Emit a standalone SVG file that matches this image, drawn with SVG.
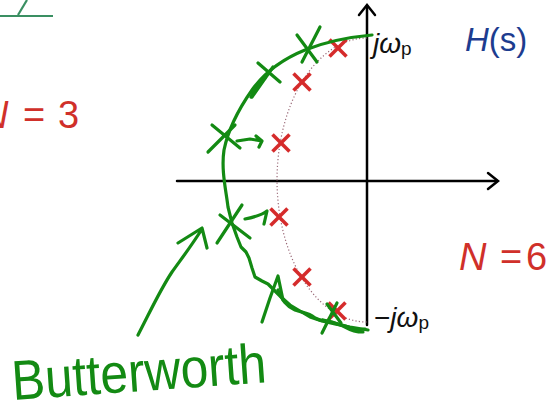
<svg xmlns="http://www.w3.org/2000/svg" width="560" height="416" viewBox="0 0 560 416">
<style>
.ax{stroke:#000;stroke-width:2.5;fill:none;stroke-linecap:round}
.px{stroke:#d52b2b;stroke-width:3.6;stroke-linecap:butt}
.ink{stroke:#138a13;stroke-width:3.2;fill:none;stroke-linecap:round;stroke-linejoin:round}
.lbl{font-family:"Liberation Sans",Arial,sans-serif;fill:#111}
.red{font-family:"Liberation Sans",Arial,sans-serif;fill:#d0302a;font-size:38px}
</style>
<defs>
<g id="px"><line class="px" x1="-8.5" y1="-8.5" x2="8.5" y2="8.5"/><line class="px" x1="8.5" y1="-8.5" x2="-8.5" y2="8.5"/></g>
</defs>
<rect width="560" height="416" fill="#fff"/>
<g id="corner-mark" stroke="#3a8f62" stroke-width="2.2" fill="none">
<line x1="0" y1="16" x2="53" y2="16"/>
<line x1="18" y1="15" x2="27" y2="0"/>
</g>
<g id="axes">
<line class="ax" x1="177" y1="181" x2="497" y2="181"/>
<polyline class="ax" points="488,173 498,181 488,189"/>
<line class="ax" x1="367" y1="6" x2="367" y2="325"/>
<polyline class="ax" points="359,15 367,5 375,15"/>
</g>
<path id="circle" d="M367,38 A90,142 0 0 0 367,322" fill="none" stroke="#9a6a78" stroke-width="1.2" stroke-dasharray="1.2,2.2"/>
<g id="poles">
<use href="#px" x="338" y="48"/>
<use href="#px" x="302" y="82"/>
<use href="#px" x="281" y="143"/>
<use href="#px" x="279" y="217"/>
<use href="#px" x="302" y="277"/>
<use href="#px" x="337" y="311"/>
</g>
<g id="labels">
<text class="lbl" x="373" y="53" font-size="28" font-style="italic">jω<tspan font-style="normal" font-size="19" dy="2">p</tspan></text>
<text class="lbl" x="374" y="327" font-size="28">−<tspan font-style="italic">jω</tspan><tspan font-size="19" dy="2">p</tspan></text>
<text x="465" y="51" font-family="Liberation Sans,Arial,sans-serif" font-size="33" fill="#1d3c8f"><tspan font-style="italic">H</tspan>(s)</text>
<g id="n3"><text class="red" x="-19" y="128" font-style="italic">N</text><text class="red" x="23" y="128">=</text><text class="red" x="58" y="128">3</text></g>
<g id="n6"><text class="red" x="459" y="270" font-style="italic">N</text><text class="red" x="500" y="270">=</text><text class="red" x="526" y="270" font-size="41">6</text></g>
</g>
<g id="ink">
<path class="ink" d="M372,35 C350,37 325,42 305,50 C285,58 265,72 252,90 C238,110 228,130 224,150 C221,170 226,190 228,207 L232,223 L237,237 L241,247 L246,252 L249,258 L252,268 L255,277 L262,281 L268,284 L274,290 L281,297 L290,305 L300,311 L310,317 L322,321 L335,324 L350,327 L368,330"/>
<path class="ink" d="M265,78 L256,87 L251,97" stroke-width="4.5"/>
<path class="ink" d="M297,35 L317,62 M320,27 L302,62"/>
<path class="ink" d="M258,63 L280,82 M273,67 L252,97"/>
<path class="ink" d="M212,125 L240,148 M235,125 L208,152"/>
<path class="ink" d="M237,141 L250,139 L262,141 M256,136 L262,141 L259,147"/>
<path class="ink" d="M220,215 L250,238 M242,205 L217,243"/>
<path class="ink" d="M245,219 C255,217 262,215 267,211 L264,224"/>
<path class="ink" d="M337,303 L322,333 M327,304 L341,323"/>
<path class="ink" d="M262,322 L270,298 L278,276 L283,300"/>
<path class="ink" d="M278,290 C282,300 286,306 295,310 C303,313 308,312 315,318 C322,322 325,320 332,322 C340,325 348,326 355,330 L365,329"/>
<path class="ink" d="M323,320 C330,322 337,323 345,327 C352,331 357,332 363,332"/>
<path class="ink" d="M138,335 C150,312 160,290 172,272 C182,258 192,245 202,229 M178,243 L202,228 L207,248"/>
</g>
<text id="butterworth" x="13" y="400" font-family="Liberation Sans,Arial,sans-serif" font-size="56" fill="#138a13" textLength="255" lengthAdjust="spacingAndGlyphs" transform="rotate(-4 13 400)">Butterworth</text>
</svg>
